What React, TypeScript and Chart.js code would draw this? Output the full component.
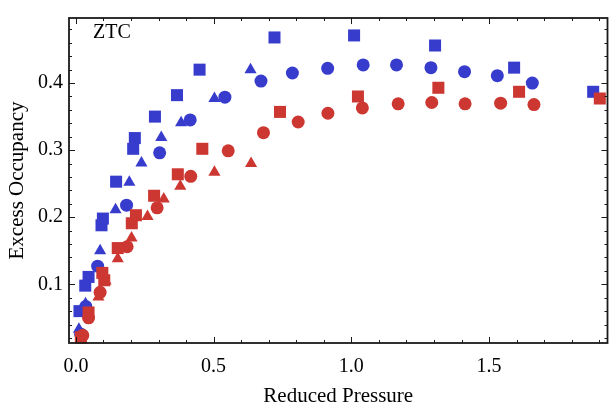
import React, { useEffect, useRef } from "react";
import { Chart, registerables } from "chart.js";

Chart.register(...registerables);

// ---- data ----
const blueSquareX = [0.013, 0.034, 0.046, 0.093, 0.098, 0.146, 0.208, 0.214, 0.287, 0.367, 0.449, 0.721, 1.010, 1.304, 1.591, 1.878];
const blueSquareY = [0.060, 0.098, 0.111, 0.188, 0.198, 0.253, 0.302, 0.318, 0.350, 0.382, 0.420, 0.468, 0.471, 0.456, 0.423, 0.387];

const blueCircleX = [0.017, 0.036, 0.079, 0.184, 0.304, 0.415, 0.541, 0.672, 0.786, 0.914, 1.043, 1.164, 1.289, 1.411, 1.530, 1.657];
const blueCircleY = [0.026, 0.067, 0.127, 0.218, 0.296, 0.345, 0.379, 0.403, 0.415, 0.422, 0.427, 0.427, 0.423, 0.417, 0.411, 0.400];

const blueTriX = [0.011, 0.035, 0.088, 0.144, 0.194, 0.238, 0.310, 0.382, 0.503, 0.634];
const blueTriY = [0.033, 0.071, 0.150, 0.211, 0.252, 0.281, 0.319, 0.341, 0.377, 0.420];

const redSquareX = [0.018, 0.046, 0.096, 0.103, 0.152, 0.203, 0.218, 0.284, 0.370, 0.459, 0.741, 1.024, 1.316, 1.609, 1.902];
const redSquareY = [0.021, 0.058, 0.117, 0.106, 0.154, 0.191, 0.203, 0.232, 0.264, 0.302, 0.357, 0.380, 0.393, 0.387, 0.377];

const redCircleX = [0.025, 0.046, 0.088, 0.186, 0.295, 0.417, 0.553, 0.681, 0.807, 0.915, 1.040, 1.170, 1.292, 1.413, 1.542, 1.663];
const redCircleY = [0.024, 0.050, 0.088, 0.156, 0.214, 0.261, 0.299, 0.326, 0.342, 0.355, 0.363, 0.369, 0.371, 0.369, 0.370, 0.368];

const redTriX = [0.022, 0.045, 0.082, 0.108, 0.152, 0.202, 0.260, 0.319, 0.379, 0.503, 0.636];
const redTriY = [0.017, 0.055, 0.081, 0.105, 0.138, 0.169, 0.201, 0.227, 0.246, 0.267, 0.280];

const xMajorTicks = [0, 0.5, 1.0, 1.5];
const yMajorTicks = [0.1, 0.2, 0.3, 0.4];
const xTitle = "Reduced Pressure";
const yTitle = "Excess Occupancy";
const panelLabel = "ZTC";

const BLUE = "rgb(55,60,205)";
const RED = "rgb(205,55,50)";
const FONT = "'Liberation Serif', 'Times New Roman', serif";

const pts = (xs: number[], ys: number[]) => xs.map((x, i) => ({ x, y: ys[i] }));

const framePlugin = {
  id: "frame",
  afterDatasetsDraw(chart: any) {
    const { ctx, chartArea, scales } = chart;
    const { left, right, top, bottom } = chartArea;
    const xs = scales.x;
    const ys = scales.y;
    ctx.save();
    ctx.strokeStyle = "#1a1a1a";
    ctx.lineWidth = 1;
    // x ticks (bottom + top)
    for (let i = 0; i <= 19; i++) {
      const v = i / 10;
      const px = Math.round(xs.getPixelForValue(v)) + 0.5;
      if (px < left || px > right) continue;
      const major = i % 5 === 0;
      const len = major ? 6 : 3;
      ctx.beginPath();
      ctx.moveTo(px, bottom);
      ctx.lineTo(px, bottom - len);
      ctx.moveTo(px, top);
      ctx.lineTo(px, top + len);
      ctx.stroke();
    }
    // y ticks (left + right)
    for (let i = 1; i <= 24; i++) {
      const v = i / 50;
      const py = Math.round(ys.getPixelForValue(v)) + 0.5;
      if (py < top || py > bottom) continue;
      const major = i % 5 === 0;
      const len = major ? 6 : 3;
      ctx.beginPath();
      ctx.moveTo(left, py);
      ctx.lineTo(left + len, py);
      ctx.moveTo(right, py);
      ctx.lineTo(right - len, py);
      ctx.stroke();
    }
    ctx.lineWidth = 1.8;
    ctx.strokeRect(left, top, right - left, bottom - top);
    // panel label
    ctx.fillStyle = "#000";
    ctx.font = `20px ${FONT}`;
    ctx.textBaseline = "middle";
    ctx.textAlign = "left";
    ctx.fillText(panelLabel, 93, 33);
    ctx.restore();
  },
};

export default function App() {
  const ref = useRef<HTMLCanvasElement | null>(null);
  useEffect(() => {
    if (!ref.current) return;
    const common = { showLine: false, pointBorderWidth: 0, clip: false as any };
    const chart = new Chart(ref.current, {
      type: "scatter",
      data: {
        datasets: [
          { ...common, label: "red square", data: pts(redSquareX, redSquareY), pointStyle: "rect", pointRadius: 8.5, backgroundColor: RED },
          { ...common, label: "red circle", data: pts(redCircleX, redCircleY), pointStyle: "circle", pointRadius: 6.5, backgroundColor: RED },
          { ...common, label: "red triangle", data: pts(redTriX, redTriY), pointStyle: "triangle", pointRadius: 7, backgroundColor: RED },
          { ...common, label: "blue square", data: pts(blueSquareX, blueSquareY), pointStyle: "rect", pointRadius: 8.5, backgroundColor: BLUE },
          { ...common, label: "blue circle", data: pts(blueCircleX, blueCircleY), pointStyle: "circle", pointRadius: 6.5, backgroundColor: BLUE },
          { ...common, label: "blue triangle", data: pts(blueTriX, blueTriY), pointStyle: "triangle", pointRadius: 7, backgroundColor: BLUE },
        ],
      },
      options: {
        responsive: false,
        animation: false,
        events: [],
        layout: { padding: { left: 0, top: 4, right: 3, bottom: 0 } },
        plugins: { legend: { display: false }, tooltip: { enabled: false } },
        scales: {
          x: {
            type: "linear",
            min: -0.025,
            max: 1.93,
            grid: { display: false, drawTicks: false },
            border: { display: false },
            afterBuildTicks: (s: any) => { s.ticks = xMajorTicks.map((v) => ({ value: v })); },
            afterFit: (s: any) => { s.height = 70; },
            ticks: {
              padding: 12,
              color: "#000",
              font: { family: FONT, size: 20 },
              callback: (v: any) => Number(v).toFixed(1),
            },
            title: { display: true, text: xTitle, color: "#000", font: { family: FONT, size: 21 }, padding: { top: 0, bottom: 4 } },
          },
          y: {
            type: "linear",
            min: 0.0125,
            max: 0.497,
            grid: { display: false, drawTicks: false },
            border: { display: false },
            afterBuildTicks: (s: any) => { s.ticks = yMajorTicks.map((v) => ({ value: v })); },
            afterFit: (s: any) => { s.width = 69; },
            ticks: {
              padding: 6,
              color: "#000",
              font: { family: FONT, size: 20 },
              callback: (v: any) => Number(v).toFixed(1),
            },
            title: { display: true, text: yTitle, color: "#000", font: { family: FONT, size: 21 }, padding: { top: 5, bottom: 0 } },
          },
        },
      },
      plugins: [framePlugin],
    } as any);
    return () => chart.destroy();
  }, []);
  return (
    <div style={{ position: "absolute", left: 0, top: 0, width: 616, height: 413, background: "#fff" }}>
      <canvas ref={ref} width={616} height={413} style={{ display: "block" }} />
    </div>
  );
}
